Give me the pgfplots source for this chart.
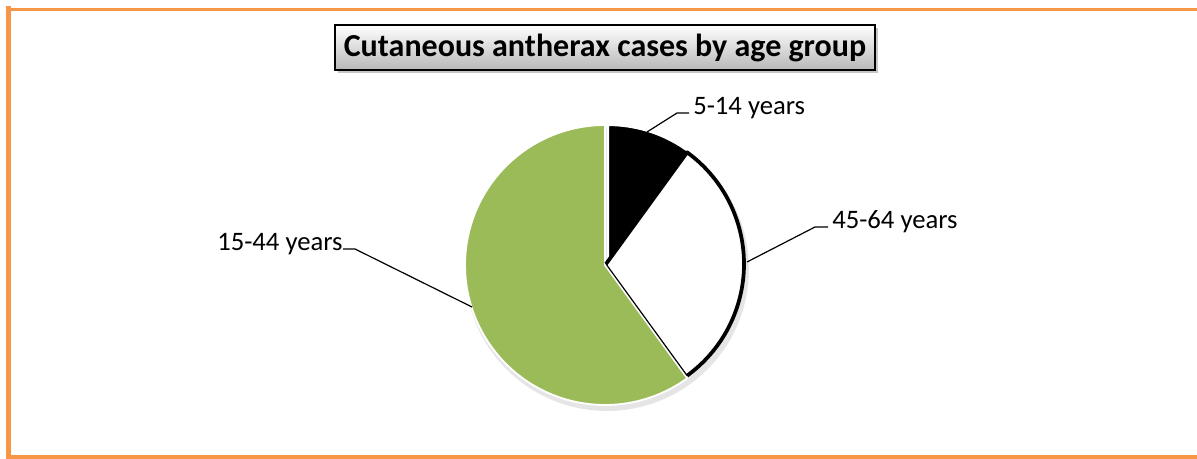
\documentclass[border=0pt]{standalone}
\usepackage{pgfplots}
\pgfplotsset{compat=1.18}
\usepackage{pgfplotstable}
\usepackage{fontspec}
\setmainfont{Carlito}
\usetikzlibrary{shadows}
\definecolor{pgreen}{HTML}{9BBB59}
\definecolor{porange}{HTML}{F79646}

\pgfplotstableread{
label value
5-14 10
45-64 30
15-44 60
}\piedata

\begin{document}
\pgfplotstablegetelem{0}{value}\of\piedata \edef\vA{\pgfplotsretval}%
\pgfplotstablegetelem{1}{value}\of\piedata \edef\vB{\pgfplotsretval}%
\pgfplotstablegetelem{2}{value}\of\piedata \edef\vC{\pgfplotsretval}%
\pgfmathsetmacro\aA{90}%
\pgfmathsetmacro\aB{\aA-3.6*\vA}%
\pgfmathsetmacro\aC{\aB-3.6*\vB}%
\pgfmathsetmacro\aD{\aC-3.6*\vC}%
\begin{tikzpicture}
\begin{axis}[
  width=897.75pt, height=343.5pt, scale only axis,
  xmin=0, xmax=1197, ymin=0, ymax=458,
  hide axis, clip=false,
]
\coordinate (BL) at (rel axis cs:0,0);
\coordinate (TR) at (rel axis cs:1,1);

% outer orange frame
\draw[porange, line width=3.8pt] (axis cs:8.7,-5) -- (axis cs:8.7,452);
\draw[porange, line width=2.6pt] (axis cs:6,448.5) -- (axis cs:1230,448.5);
\draw[porange, line width=2.6pt] (axis cs:6,1.2) -- (axis cs:1230,1.2);

% soft shadow of the pie
\addplot[draw=none, fill=black, opacity=0.10, domain=0:360, samples=120, variable=\t]
  ({607+142*cos(\t)}, {189+142*sin(\t)}) -- cycle;

% 15-44 years (green)
\addplot[fill=pgreen, draw=white, line width=1.4pt, line join=round, domain=\aD:\aC, samples=150, variable=\t]
  ({605+140*cos(\t)}, {193+140*sin(\t)}) -- (axis cs:605,193) -- cycle;

% 5-14 years (black)
\addplot[fill=black, draw=white, line width=1.6pt, line join=round, domain=\aB:\aA, samples=40, variable=\t]
  ({608+136*cos(\t)}, {197+136*sin(\t)}) -- (axis cs:608,197) -- cycle;

% 45-64 years (white with black outline)
\addplot[fill=white, draw=black, line width=0.9pt, line join=round, domain=\aC:\aB, samples=100, variable=\t]
  ({606+138*cos(\t)}, {194+138*sin(\t)}) -- (axis cs:606,194) -- cycle;
\addplot[draw=black, line width=2.8pt, line join=round, domain=\aC:\aB, samples=100, variable=\t]
  ({606+138*cos(\t)}, {194+138*sin(\t)}) -- (axis cs:606,194);

% leader lines
\addplot[black, line width=0.9pt] coordinates {(647,326) (677,345) (689,345)};
\addplot[black, line width=0.9pt] coordinates {(747,196) (815,231) (828,231)};
\addplot[black, line width=0.9pt] coordinates {(472,151) (355,209) (343,209)};

% labels
\node[anchor=base west, inner sep=0pt, font=\fontsize{20}{24}\selectfont] at (axis cs:693,343) {5-14 years};
\node[anchor=base west, inner sep=0pt, font=\fontsize{20}{24}\selectfont] at (axis cs:832,230) {45-64 years};
\node[anchor=base west, inner sep=0pt, font=\fontsize{20}{24}\selectfont] at (axis cs:217,208) {15-44 years};

% title
\node[draw=black, line width=0.8pt, top color=white, bottom color=black!28,
      drop shadow={shadow xshift=2pt, shadow yshift=-2pt, opacity=0.45},
      minimum width=405pt, minimum height=33.75pt, inner sep=0pt,
      font=\bfseries\fontsize{24}{28}\selectfont]
  at (axis cs:605,410.5) {Cutaneous antherax cases by age group};
\end{axis}
\pgfresetboundingbox
\path[use as bounding box] (BL) rectangle (TR);
\end{tikzpicture}
\end{document}
